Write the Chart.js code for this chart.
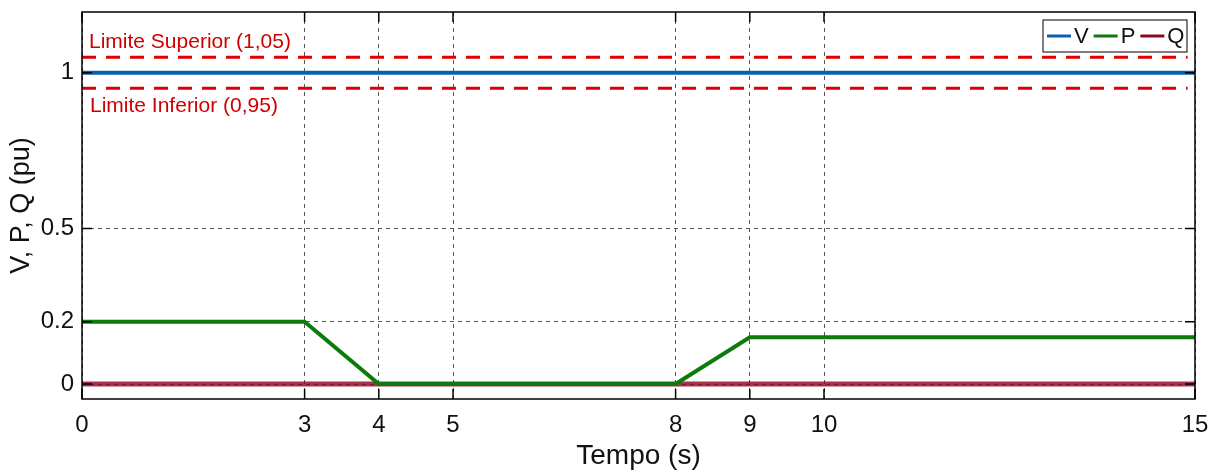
<!DOCTYPE html>
<html lang="pt">
<head>
  <meta charset="UTF-8">
  <title>V, P, Q</title>
  <script src="https://cdn.jsdelivr.net/npm/chart.js"></script>
  <style>
    body { margin: 0; background: #fff; }
    #wrap { width: 1211px; height: 473px; }
  </style>
</head>
<body>
  <div id="wrap"><canvas id="vpq" width="1211" height="473"></canvas></div>

  <script>
    // dados
    const tempoV = [0, 15];
    const valoresV = [1, 1];
    const tempoP = [0, 3, 4, 8, 9, 15];
    const valoresP = [0.2, 0.2, 0, 0, 0.15, 0.15];
    const tempoQ = [0, 15];
    const valoresQ = [0, 0];
    const tempoLim = [0, 14.9];
    const limSup = [1.05, 1.05];
    const limInf = [0.95, 0.95];
    const ticksX = [0, 3, 4, 5, 8, 9, 10, 15];
    const ticksY = [0, 0.2, 0.5, 1];

    const pts = (xs, ys) => xs.map((x, i) => ({ x: x, y: ys[i] }));

    const fonte = 'Arial, "Liberation Sans", sans-serif';

    // caixa, marcas internas, textos dos limites e legenda
    const extras = {
      id: 'extras',
      afterDraw(chart) {
        const c = chart.ctx, a = chart.chartArea;
        const sx = chart.scales.x, sy = chart.scales.y;
        c.save();
        c.strokeStyle = '#000';
        c.lineWidth = 1.5;
        c.strokeRect(a.left, a.top, a.right - a.left, a.bottom - a.top);
        c.beginPath();
        ticksX.forEach(t => {
          const px = sx.getPixelForValue(t);
          c.moveTo(px, a.bottom); c.lineTo(px, a.bottom - 10);
          c.moveTo(px, a.top); c.lineTo(px, a.top + 10);
        });
        ticksY.forEach(t => {
          const py = sy.getPixelForValue(t);
          c.moveTo(a.left, py); c.lineTo(a.left + 10, py);
          c.moveTo(a.right, py); c.lineTo(a.right - 10, py);
        });
        c.stroke();

        c.fillStyle = '#d00000';
        c.font = '21px ' + fonte;
        c.textBaseline = 'middle';
        c.textAlign = 'left';
        c.fillText('Limite Superior (1,05)', a.left + 7, sy.getPixelForValue(1.05) - 15);
        c.fillText('Limite Inferior (0,95)', a.left + 8, sy.getPixelForValue(0.95) + 18);

        // legenda
        const itens = chart.data.datasets.filter(d => d.naLegenda);
        const lx = 1043, ly = 20, lw = 144, lh = 32;
        c.fillStyle = '#fff';
        c.fillRect(lx, ly, lw, lh);
        c.strokeStyle = '#000';
        c.lineWidth = 1;
        c.strokeRect(lx, ly, lw, lh);
        c.font = '22px ' + fonte;
        let x = lx + 4;
        itens.forEach(d => {
          c.strokeStyle = d.corLegenda;
          c.lineWidth = 3;
          c.beginPath();
          c.moveTo(x, ly + lh / 2); c.lineTo(x + 24, ly + lh / 2);
          c.stroke();
          x += 27;
          c.fillStyle = '#111';
          c.fillText(d.label, x, ly + lh / 2 + 1);
          x += c.measureText(d.label).width + 5;
        });
        c.restore();
      }
    };

    new Chart(document.getElementById('vpq'), {
      type: 'line',
      data: {
        datasets: [
          { label: 'Lim sup', data: pts(tempoLim, limSup), borderColor: '#e00000', borderWidth: 3, borderDash: [14, 10], pointRadius: 0 },
          { label: 'Lim inf', data: pts(tempoLim, limInf), borderColor: '#e00000', borderWidth: 3, borderDash: [14, 10], pointRadius: 0 },
          { label: 'V', data: pts(tempoV, valoresV), borderColor: '#0a5fb0', borderWidth: 4, pointRadius: 0, naLegenda: true, corLegenda: '#0a5fb0', order: -1 },
          { label: 'P', data: pts(tempoP, valoresP), borderColor: '#0c7a0c', borderWidth: 4, pointRadius: 0, naLegenda: true, corLegenda: '#0c7a0c', order: 0 },
          { label: 'Q', data: pts(tempoQ, valoresQ), borderColor: 'rgba(140, 0, 30, 0.8)', borderWidth: 5, pointRadius: 0, naLegenda: true, corLegenda: '#8b0a1a', order: 1 }
        ]
      },
      options: {
        responsive: false,
        animation: false,
        layout: { padding: { top: 12, right: 16, left: 0, bottom: 0 } },
        plugins: { legend: { display: false }, tooltip: { enabled: false } },
        scales: {
          x: {
            type: 'linear', min: 0, max: 15,
            afterBuildTicks: s => { s.ticks = ticksX.map(v => ({ value: v })); },
            afterFit: s => { s.height = 74; s.paddingLeft = 0; s.paddingRight = 0; },
            grid: { color: '#555', lineWidth: 1, drawTicks: false },
            border: { display: false, dash: [4, 4] },
            ticks: { color: '#111', font: { size: 24, family: fonte }, padding: 12, maxRotation: 0, callback: v => String(v) },
            title: { display: true, text: 'Tempo (s)', color: '#111', font: { size: 28, family: fonte }, padding: { top: 0, bottom: 0 } }
          },
          y: {
            min: -0.048, max: 1.195,
            afterBuildTicks: s => { s.ticks = ticksY.map(v => ({ value: v })); },
            afterFit: s => { s.width = 82; s.paddingTop = 0; s.paddingBottom = 0; },
            grid: { color: '#555', lineWidth: 1, drawTicks: false },
            border: { display: false, dash: [4, 4] },
            ticks: { color: '#111', font: { size: 24, family: fonte }, padding: 8, callback: v => String(v) },
            title: { display: true, text: 'V, P, Q (pu)', color: '#111', font: { size: 27, family: fonte }, padding: { top: 5, bottom: 4 } }
          }
        }
      },
      plugins: [extras]
    });
  </script>
</body>
</html>
